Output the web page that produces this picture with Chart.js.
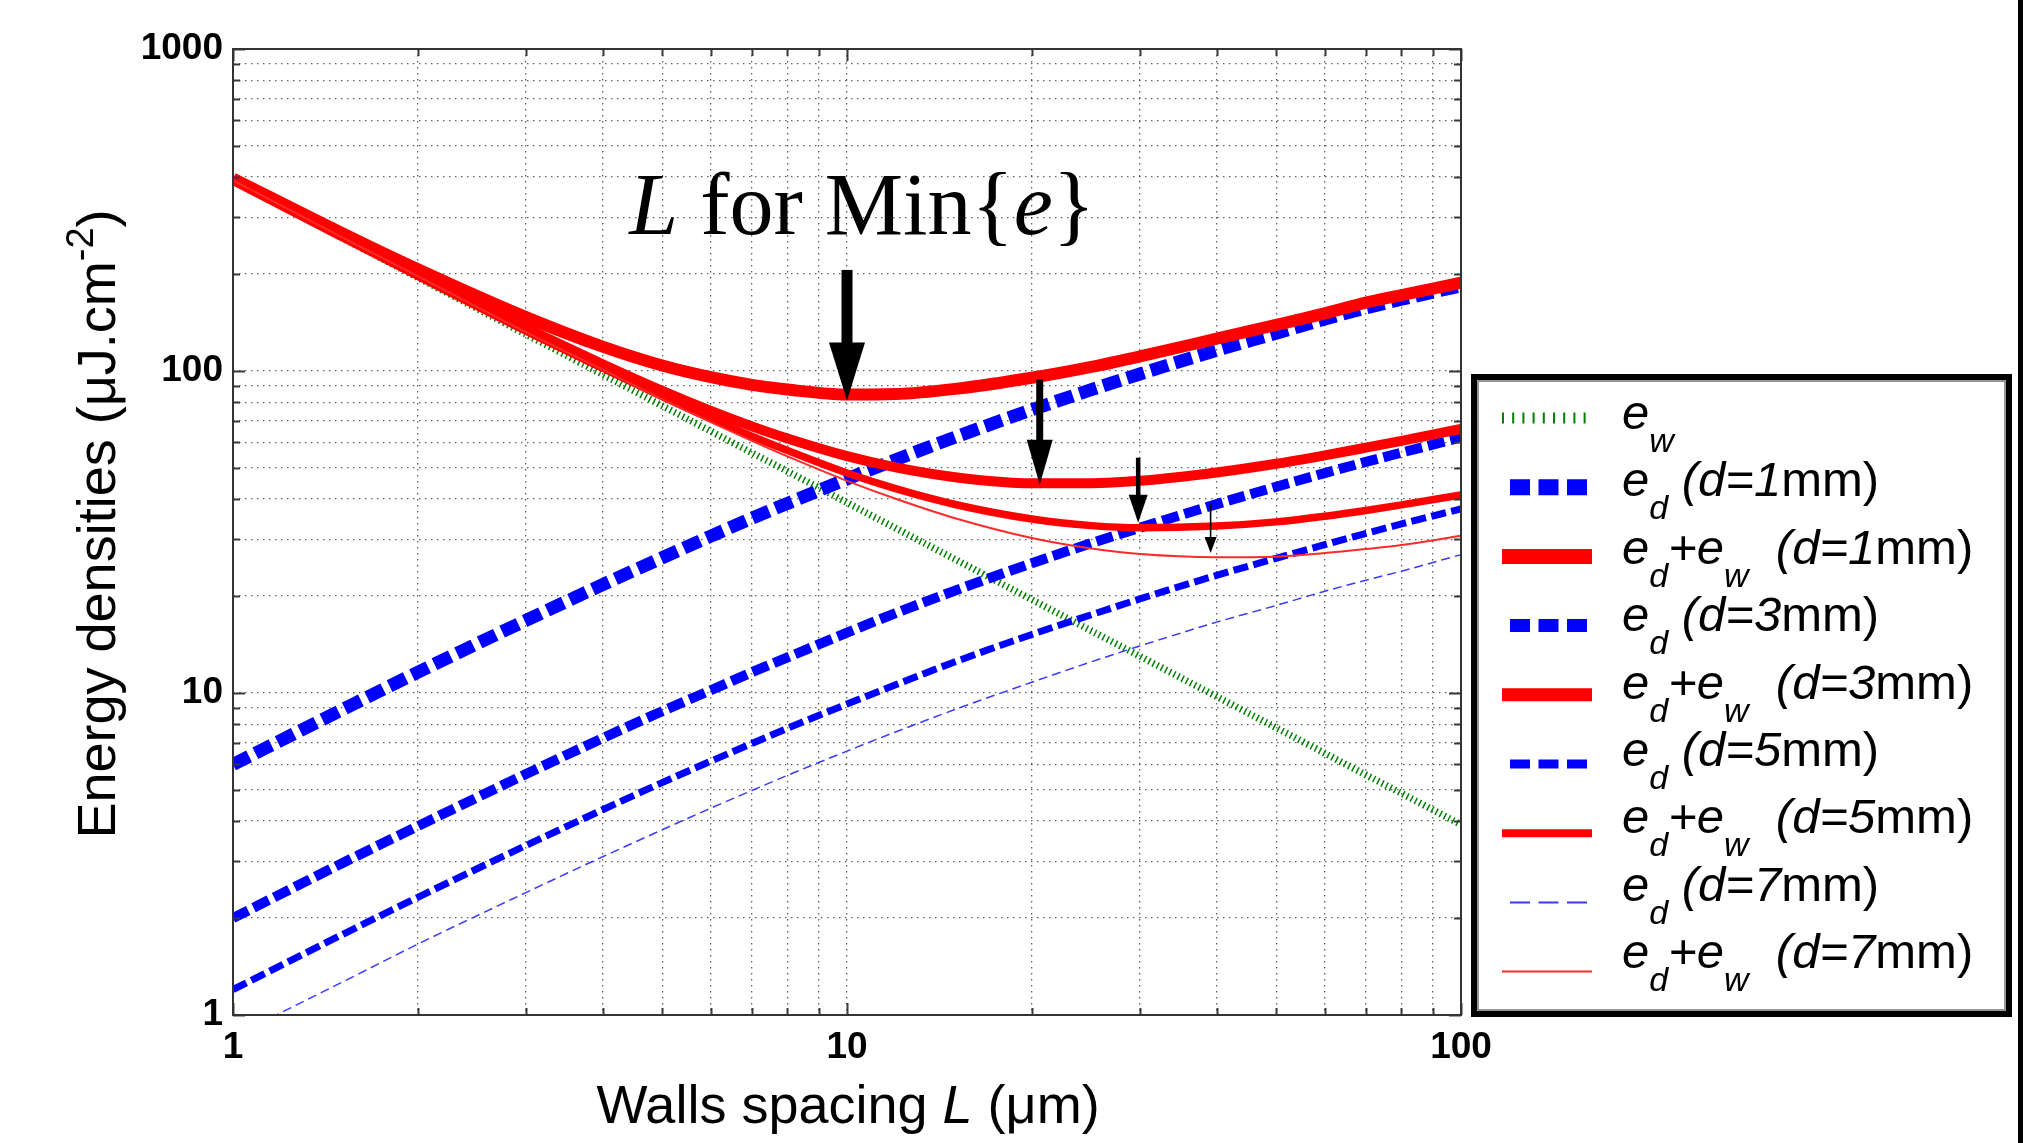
<!DOCTYPE html>
<html>
<head>
<meta charset="utf-8">
<script src="https://cdn.jsdelivr.net/npm/chart.js@4/dist/chart.umd.min.js"></script>
<style>
html,body{margin:0;padding:0;background:#fff;}
#wrap{width:2041px;height:1143px;position:relative;}
</style>
</head>
<body>
<div id="wrap"><canvas id="c"></canvas></div>
<script>
// ---------- data ----------
const L_VALUES = [1, 1.5, 2, 3, 4, 5, 6, 7, 8, 10, 12, 15, 20, 25, 30, 40, 50, 60, 70, 80, 100];
const E_W      = [390, 260, 195, 130, 97.5, 78, 65, 55.7, 48.8, 39, 32.5, 26, 19.5, 15.6, 13, 9.75, 7.8, 6.5, 5.57, 4.88, 3.9];
const E_D1     = [6.0, 8.84, 11.6, 16.8, 21.7, 26.3, 30.7, 34.9, 38.8, 46.2, 53.0, 62.3, 75.8, 87.5, 97.9, 116, 131, 145, 157, 167, 184];
const E_SUM1   = [396, 269, 207, 147, 119, 104, 95.7, 90.6, 87.6, 84.5, 84.8, 88.0, 95.3, 103, 111, 126, 139, 151, 163, 172, 188];
const E_D3     = [2.0, 2.95, 3.86, 5.60, 7.24, 8.78, 10.2, 11.6, 12.9, 15.4, 17.7, 20.8, 25.3, 29.2, 32.6, 38.6, 43.7, 48.2, 52.2, 55.8, 62.2];
const E_SUM3   = [392, 263, 199, 136, 105, 86.8, 75.2, 67.3, 61.7, 54.4, 50.2, 46.8, 44.8, 44.8, 45.6, 48.4, 51.5, 54.7, 57.8, 60.7, 66.1];
const E_D5     = [1.2, 1.77, 2.32, 3.36, 4.34, 5.27, 6.14, 6.97, 7.77, 9.24, 10.6, 12.5, 15.2, 17.5, 19.6, 23.2, 26.2, 28.9, 31.3, 33.5, 37.3];
const E_SUM5   = [391, 262, 197, 133, 102, 83.3, 71.1, 62.7, 56.6, 48.2, 43.1, 38.5, 34.7, 33.1, 32.6, 33.0, 34.0, 35.4, 36.9, 38.4, 41.2];
const E_D7     = [0.857, 1.26, 1.66, 2.40, 3.10, 3.76, 4.39, 4.98, 5.55, 6.60, 7.57, 8.89, 10.8, 12.5, 14.0, 16.6, 18.7, 20.7, 22.4, 23.9, 26.9];
const E_SUM7   = [391, 261, 197, 132, 101, 81.8, 69.4, 60.7, 54.3, 45.6, 40.1, 34.9, 30.3, 28.1, 27.0, 26.4, 26.5, 27.2, 28.0, 28.8, 30.8];

const SERIES_NAMES = ['e_w', 'e_d (d=1mm)', 'e_d+e_w (d=1mm)', 'e_d (d=3mm)', 'e_d+e_w (d=3mm)',
                      'e_d (d=5mm)', 'e_d+e_w (d=5mm)', 'e_d (d=7mm)', 'e_d+e_w (d=7mm)'];
const SERIES_VALUES = [E_W, E_D1, E_SUM1, E_D3, E_SUM3, E_D5, E_SUM5, E_D7, E_SUM7];

const X_TICKS = [1,2,3,4,5,6,7,8,9,10,20,30,40,50,60,70,80,90,100];
const Y_TICKS = [1,2,3,4,5,6,7,8,9,10,20,30,40,50,60,70,80,90,100,200,300,400,500,600,700,800,900,1000];
const X_LABELS = [1, 10, 100];
const Y_LABELS = [1, 10, 100, 1000];

// minima arrows: [L, tail value, tip value]
const ARROW_L    = [10, 20.6, 29.8, 39.1];
const ARROW_TAIL = [206, 94, 53.8, 38.5];
const ARROW_TIP  = [81, 44.3, 33.8, 27.2];

// ---------- styles ----------
const STYLES = [
  {color:'#008000', width:7,   dash:[1.5,3.2]},
  {color:'#0000ff', width:13,  dash:[18,7]},
  {color:'#ff0000', width:12,  dash:[]},
  {color:'#0000ff', width:10,  dash:[17,6]},
  {color:'#ff0000', width:10,  dash:[]},
  {color:'#0000ff', width:7,   dash:[15,5.5]},
  {color:'#ff0000', width:7.5, dash:[]},
  {color:'#3a3aff', width:1.5, dash:[9,5]},
  {color:'#ff2a2a', width:2,   dash:[]}
];
const LEGEND_STYLES = [
  {w:11, dash:[2,8.2], x0:1502, x1:1586},
  {w:16, dash:[20,8.5], x0:1510, x1:1587},
  {w:15, dash:[], x0:1502, x1:1592},
  {w:13, dash:[20,8.5], x0:1510, x1:1587},
  {w:13, dash:[], x0:1502, x1:1592},
  {w:9,  dash:[20,8.5], x0:1510, x1:1587},
  {w:8,  dash:[], x0:1502, x1:1592},
  {w:2,  dash:[20,8.5], x0:1510, x1:1587},
  {w:2,  dash:[], x0:1502, x1:1592}
];
const ARROW_STYLE = [
  {shaft:11, headLen:58, headW:36},
  {shaft:7,  headLen:45, headW:26},
  {shaft:4.5,headLen:28, headW:19},
  {shaft:1.6,headLen:16, headW:12}
];

// rich-text pieces: [text, kind]  kind: n normal, i italic, is italic subscript, sup superscript
function sizeLabel(d) {
  return [['e','i'],['d','is'],[' (d='+d,'i'],['mm)','n']];
}
function sumLabel(d) {
  return [['e','i'],['d','is'],['+e','i'],['w','is'],['  (d='+d,'i'],['mm)','n']];
}
const LEGEND_TEXT = [
  [['e','i'],['w','is']],
  sizeLabel(1), sumLabel(1), sizeLabel(3), sumLabel(3),
  sizeLabel(5), sumLabel(5), sizeLabel(7), sumLabel(7)
];
const X_TITLE = [['Walls spacing ','n'],['L','i'],[' (\u03BCm)','n']];
const Y_TITLE = [['Energy densities (\u03BCJ.cm','n'],['-2','sup'],[')','n']];

const SANS = '"Liberation Sans", Arial, Helvetica, sans-serif';
const SERIF = '"Liberation Serif", "Times New Roman", Times, serif';

function segFont(kind, size, subSize) {
  const it = (kind === 'i' || kind === 'is') ? 'italic ' : '';
  const s = (kind === 'is' || kind === 'sup') ? subSize : size;
  return it + s + 'px ' + SANS;
}
function richWidth(ctx, segs, size, subSize) {
  let w = 0;
  for (const [t, k] of segs) { ctx.font = segFont(k, size, subSize); w += ctx.measureText(t).width; }
  return w;
}
function drawRich(ctx, segs, x, y, size, subSize, subDy, supDy) {
  ctx.textBaseline = 'alphabetic';
  ctx.textAlign = 'left';
  for (const [t, k] of segs) {
    ctx.font = segFont(k, size, subSize);
    let yy = y;
    if (k === 'is') yy += subDy;
    if (k === 'sup') yy -= supDy;
    ctx.fillText(t, x, yy);
    x += ctx.measureText(t).width;
  }
  return x;
}

const decor = {
  id: 'decor',
  beforeDraw(chart) {
    const ctx = chart.ctx;
    ctx.save();
    ctx.fillStyle = '#fff';
    ctx.fillRect(0, 0, chart.width, chart.height);
    ctx.restore();
  },
  afterDraw(chart) {
    const ctx = chart.ctx;
    const a = chart.chartArea;
    const xs = chart.scales.x, ys = chart.scales.y;
    ctx.save();

    // inward tick marks
    ctx.strokeStyle = '#3a3a3a';
    ctx.lineWidth = 2;
    ctx.beginPath();
    for (const v of X_TICKS) {
      const px = Math.round(xs.getPixelForValue(v)) + 0.5;
      const len = X_LABELS.includes(v) ? 12 : 7;
      ctx.moveTo(px, a.bottom); ctx.lineTo(px, a.bottom - len);
      ctx.moveTo(px, a.top); ctx.lineTo(px, a.top + len);
    }
    for (const v of Y_TICKS) {
      const py = Math.round(ys.getPixelForValue(v)) + 0.5;
      const len = Y_LABELS.includes(v) ? 12 : 7;
      ctx.moveTo(a.left, py); ctx.lineTo(a.left + len, py);
      ctx.moveTo(a.right, py); ctx.lineTo(a.right - len, py);
    }
    ctx.stroke();

    // axes box
    ctx.strokeStyle = '#333';
    ctx.lineWidth = 2;
    ctx.strokeRect(a.left, a.top, a.right - a.left, a.bottom - a.top);

    // arrows to minima
    ctx.fillStyle = '#000';
    for (let i = 0; i < ARROW_L.length; i++) {
      const st = ARROW_STYLE[i];
      const x = xs.getPixelForValue(ARROW_L[i]);
      const yT = ys.getPixelForValue(ARROW_TAIL[i]);
      const yP = ys.getPixelForValue(ARROW_TIP[i]);
      const yH = yP - st.headLen;
      ctx.fillRect(x - st.shaft / 2, yT, st.shaft, yH - yT + 1);
      ctx.beginPath();
      ctx.moveTo(x - st.headW / 2, yH);
      ctx.lineTo(x + st.headW / 2, yH);
      ctx.lineTo(x, yP);
      ctx.closePath();
      ctx.fill();
    }

    // annotation "L for Min{e}"
    {
      const ax = xs.getPixelForValue(4.42);
      const ay = ys.getPixelForValue(267);
      const parts = [['L','i'],[' for Min{','n'],['e','i'],['}','n']];
      let x = ax;
      ctx.fillStyle = '#000';
      ctx.textBaseline = 'alphabetic';
      ctx.textAlign = 'left';
      for (const [t, k] of parts) {
        ctx.font = (k === 'i' ? 'italic ' : '') + '88px ' + SERIF;
        ctx.fillText(t, x, ay);
        x += ctx.measureText(t).width;
      }
    }

    // axis titles
    ctx.fillStyle = '#000';
    {
      const w = richWidth(ctx, X_TITLE, 54, 38);
      drawRich(ctx, X_TITLE, (a.left + a.right) / 2 + 1 - w / 2, 1123, 54, 38, 0, 0);
    }
    {
      ctx.save();
      ctx.translate(115, (a.top + a.bottom) / 2 - 8);
      ctx.rotate(-Math.PI / 2);
      const w = richWidth(ctx, Y_TITLE, 54, 38);
      drawRich(ctx, Y_TITLE, -w / 2, 0, 54, 38, 0, 22);
      ctx.restore();
    }

    // legend box
    const bx0 = 1471, by0 = 374, bx1 = 2012, by1 = 1017;
    ctx.fillStyle = '#fff';
    ctx.fillRect(bx0, by0, bx1 - bx0, by1 - by0);
    ctx.strokeStyle = '#000';
    ctx.lineWidth = 6;
    ctx.strokeRect(bx0 + 3, by0 + 3, bx1 - bx0 - 6, by1 - by0 - 6);
    ctx.strokeStyle = '#777';
    ctx.lineWidth = 1.5;
    ctx.strokeRect(bx0 + 7, by0 + 7, bx1 - bx0 - 14, by1 - by0 - 14);

    for (let i = 0; i < LEGEND_TEXT.length; i++) {
      const ls = LEGEND_STYLES[i];
      const sy = 418 + 69.2 * i;
      ctx.strokeStyle = STYLES[i].color;
      ctx.lineWidth = ls.w;
      ctx.lineCap = 'butt';
      ctx.setLineDash(ls.dash);
      ctx.beginPath();
      ctx.moveTo(ls.x0, sy);
      ctx.lineTo(ls.x1, sy);
      ctx.stroke();
      ctx.setLineDash([]);
      ctx.fillStyle = '#000';
      drawRich(ctx, LEGEND_TEXT[i], 1622, 429 + 67.4 * i, 49, 34, 23, 0);
    }

    // right-hand vertical bar
    ctx.fillStyle = '#000';
    ctx.fillRect(2018, 0, 5, chart.height);

    ctx.restore();
  }
};

const datasets = SERIES_VALUES.map((vals, i) => ({
  label: SERIES_NAMES[i],
  data: L_VALUES.map((x, j) => ({x: x, y: vals[j]})),
  borderColor: STYLES[i].color,
  backgroundColor: STYLES[i].color,
  borderWidth: STYLES[i].width,
  borderDash: STYLES[i].dash,
  borderCapStyle: 'butt',
  pointRadius: 0,
  pointHoverRadius: 0,
  fill: false,
  cubicInterpolationMode: 'monotone',
  order: SERIES_VALUES.length - i
}));

const gridCommon = {
  color: 'rgba(0,0,0,0.62)',
  lineWidth: 1.3,
  drawTicks: false,
  tickLength: 0
};

new Chart(document.getElementById('c'), {
  type: 'line',
  data: { datasets: datasets },
  plugins: [decor],
  options: {
    responsive: true,
    maintainAspectRatio: false,
    animation: false,
    layout: { padding: { left: 0, top: 49, right: 580, bottom: 0 } },
    plugins: { legend: { display: false }, tooltip: { enabled: false } },
    scales: {
      x: {
        type: 'logarithmic',
        min: 1, max: 100,
        afterBuildTicks: (s) => { s.ticks = X_TICKS.map(v => ({value: v})); },
        afterFit: (s) => { s.height = 128; },
        grid: gridCommon,
        border: { display: false, dash: [1.5, 4.5] },
        ticks: {
          autoSkip: false, maxRotation: 0, minRotation: 0, padding: 11,
          color: '#000',
          font: { family: 'Liberation Sans', size: 37, weight: 'bold' },
          callback: (v) => X_LABELS.includes(v) ? String(v) : ''
        }
      },
      y: {
        type: 'logarithmic',
        min: 1, max: 1000,
        afterBuildTicks: (s) => { s.ticks = Y_TICKS.map(v => ({value: v})); },
        afterFit: (s) => { s.width = 233; },
        grid: gridCommon,
        border: { display: false, dash: [1.5, 4.5] },
        ticks: {
          autoSkip: false, padding: 10,
          color: '#000',
          font: { family: 'Liberation Sans', size: 37, weight: 'bold' },
          callback: (v) => Y_LABELS.includes(v) ? String(v) : ''
        }
      }
    }
  }
});
</script>
</body>
</html>
